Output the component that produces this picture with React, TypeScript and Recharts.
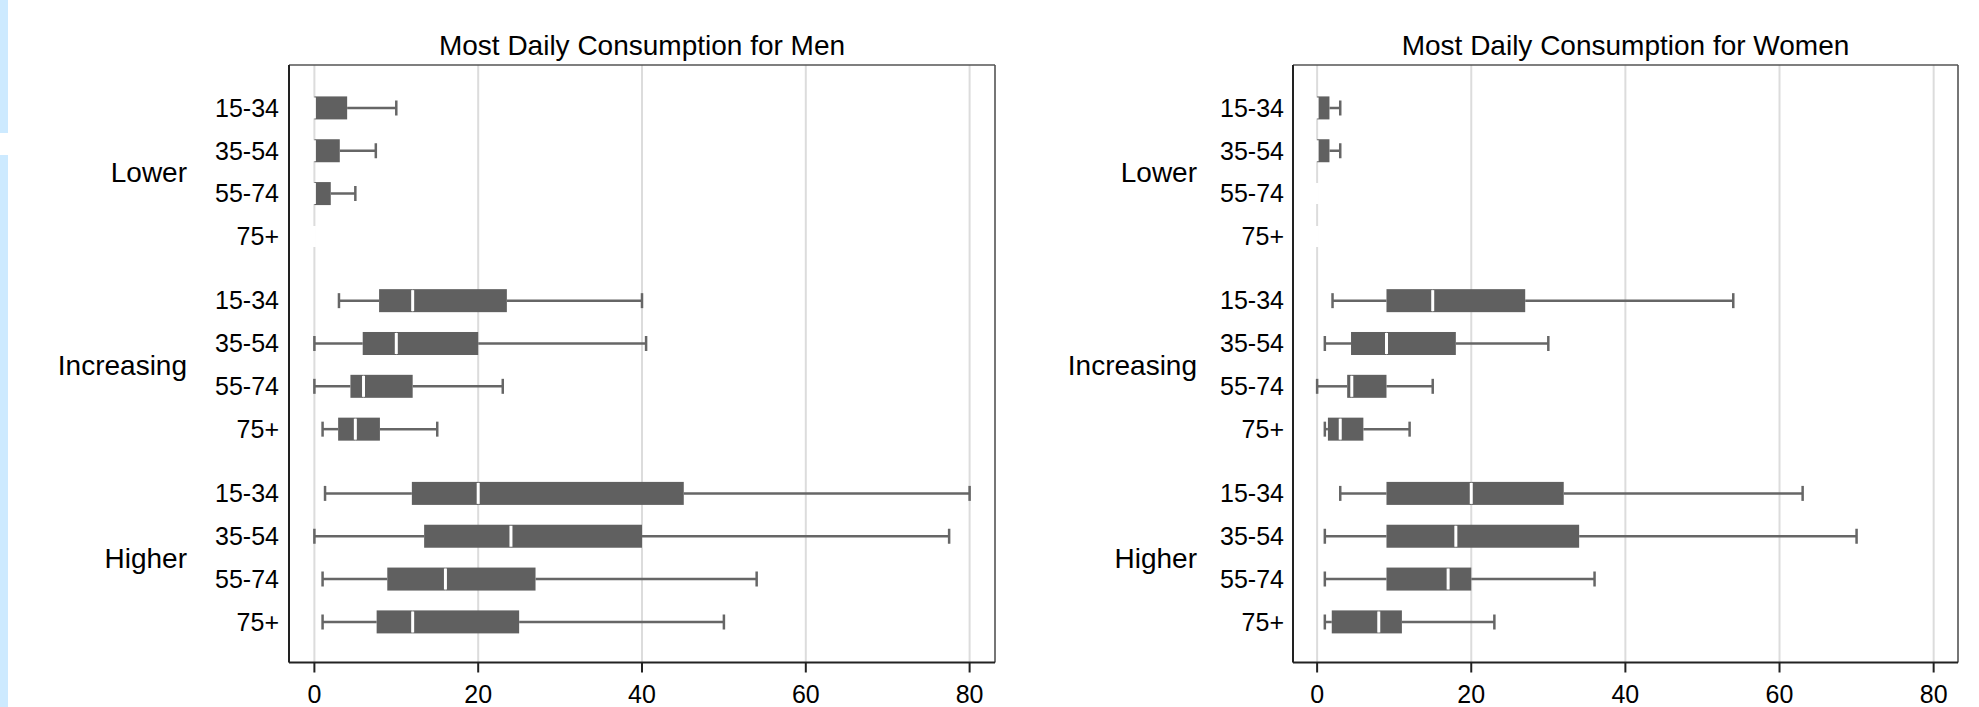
import React from "react";
import { ComposedChart, Bar, XAxis, YAxis, CartesianGrid, ReferenceLine } from "recharts";

const ageGroups = ["15-34", "35-54", "55-74", "75+"];
const trendGroups = ["Lower", "Increasing", "Higher"];
// row positions on the y axis (half-row gap between trend groups)
const rowPos = [0, 1, 2, 3, 4.5, 5.5, 6.5, 7.5, 9, 10, 11, 12];
const groupPos = [1.5, 6, 10.5];
const xTicks = [0, 20, 40, 60, 80];

const menMin = [0, 0, 0, 0, 3, 0, 0, 1, 1.3, 0, 1, 1];
const menQ1 = [0, 0, 0, 0, 7.9, 5.9, 4.4, 2.9, 11.9, 13.4, 8.9, 7.6];
const menMed = [0, 0, 0, 0, 12, 10, 6, 5, 20, 24, 16, 12];
const menQ3 = [4, 3.1, 2, 0, 23.5, 20, 12, 8, 45.1, 40, 27, 25];
const menMax = [10, 7.5, 5, 0, 40, 40.5, 23, 15, 80, 77.5, 54, 50];

const womenMin = [0, 0, 0, 0, 2, 1, 0, 1, 3, 1, 1, 1];
const womenQ1 = [0, 0, 0, 0, 9, 4.4, 3.9, 1.4, 9, 9, 9, 1.9];
const womenMed = [0, 0, 0, 0, 15, 9, 4.5, 3, 20, 18, 17, 8];
const womenQ3 = [1.6, 1.6, 0, 0, 27, 18, 9, 6, 32, 34, 20, 11];
const womenMax = [3, 3, 0, 0, 54, 30, 15, 12, 63, 70, 36, 23];

const FONT = "'Liberation Sans', Arial, Helvetica, sans-serif";
const BOX = "#606060";
const WHISKER = "#666666";

function buildRows(min: number[], q1: number[], med: number[], q3: number[], max: number[]) {
  return rowPos.map((pos, i) => ({
    pos,
    base: min[i],
    lowW: q1[i] - min[i],
    boxL: med[i] - q1[i],
    boxR: q3[i] - med[i],
    highW: max[i] - q3[i],
  }));
}

const menRows = buildRows(menMin, menQ1, menMed, menQ3, menMax);
const womenRows = buildRows(womenMin, womenQ1, womenMed, womenQ3, womenMax);

function YTick(props: any) {
  const { x, y, payload, groupDx } = props;
  const v = payload.value;
  const gi = groupPos.indexOf(v);
  if (gi >= 0) {
    return (
      <text x={x - groupDx} y={y} dy="0.355em" textAnchor="end" fontSize={28} fontFamily={FONT} fill="#000">
        {trendGroups[gi]}
      </text>
    );
  }
  const ri = rowPos.indexOf(v);
  return (
    <text x={x} y={y} dy="0.355em" textAnchor="end" fontSize={25} fontFamily={FONT} fill="#000">
      {ageGroups[ri % 4]}
    </text>
  );
}

const emptyShape = () => <g />;

const lowWhisker = (p: any) => {
  const { x, y, width, height } = p;
  if (!(width > 0)) return <g />;
  const cy = y + height / 2;
  return (
    <g>
      <line x1={x} x2={x + width} y1={cy} y2={cy} stroke={WHISKER} strokeWidth={2.5} />
      <line x1={x} x2={x} y1={cy - 7.5} y2={cy + 7.5} stroke={WHISKER} strokeWidth={2.5} />
    </g>
  );
};

const highWhisker = (p: any) => {
  const { x, y, width, height } = p;
  if (!(width > 0)) return <g />;
  const cy = y + height / 2;
  return (
    <g>
      <line x1={x} x2={x + width} y1={cy} y2={cy} stroke={WHISKER} strokeWidth={2.5} />
      <line x1={x + width} x2={x + width} y1={cy - 7.5} y2={cy + 7.5} stroke={WHISKER} strokeWidth={2.5} />
    </g>
  );
};

const boxLeft = (p: any) => {
  const { x, y, width, height } = p;
  return <rect x={x} y={y} width={Math.max(width, 0)} height={height} fill={BOX} />;
};

const boxRight = (p: any) => {
  const { x, y, width, height } = p;
  return (
    <g>
      <rect x={x} y={y} width={Math.max(width, 0)} height={height} fill={BOX} />
      <line x1={x} x2={x} y1={y + 1} y2={y + height - 1} stroke="#ffffff" strokeWidth={3} />
    </g>
  );
};

function Panel(props: any) {
  const { title, data, left, width, yWidth, marginRight, domain, tickGap, groupDx } = props;
  return (
    <div style={{ position: "absolute", left, top: 0, width, height: 707 }}>
      <div
        style={{
          position: "absolute",
          left: yWidth,
          width: width - yWidth - marginRight,
          top: 30,
          textAlign: "center",
          fontSize: 28,
          lineHeight: "32px",
          fontFamily: FONT,
          color: "#000",
        }}
      >
        {title}
      </div>
      <ComposedChart
        width={width}
        height={707}
        data={data}
        layout="vertical"
        margin={{ top: 65, right: marginRight, bottom: 0, left: 0 }}
      >
        <CartesianGrid horizontal={false} stroke="#dcdcdc" strokeWidth={2} />
        <XAxis
          type="number"
          domain={domain}
          ticks={xTicks}
          allowDataOverflow
          interval={0}
          height={44.5}
          tickSize={10}
          tickMargin={13}
          axisLine={{ stroke: "#222", strokeWidth: 2 }}
          tickLine={{ stroke: "#222", strokeWidth: 2 }}
          tick={{ fill: "#000", fontSize: 25, fontFamily: FONT }}
        />
        <YAxis
          type="number"
          dataKey="pos"
          domain={[-1, 12.95]}
          allowDataOverflow
          ticks={[...rowPos, ...groupPos]}
          interval={0}
          width={yWidth}
          tickLine={false}
          tickSize={0}
          tickMargin={tickGap}
          axisLine={{ stroke: "#222", strokeWidth: 2 }}
          tick={<YTick groupDx={groupDx} />}
        />
        <ReferenceLine y={-1} stroke="#555" strokeWidth={1.5} />
        <ReferenceLine x={domain[1]} stroke="#555" strokeWidth={1.5} />
        <Bar dataKey="base" stackId="s" barSize={23} shape={emptyShape} isAnimationActive={false} />
        <Bar dataKey="lowW" stackId="s" barSize={23} shape={lowWhisker} isAnimationActive={false} />
        <Bar dataKey="boxL" stackId="s" barSize={23} shape={boxLeft} isAnimationActive={false} />
        <Bar dataKey="boxR" stackId="s" barSize={23} shape={boxRight} isAnimationActive={false} />
        <Bar dataKey="highW" stackId="s" barSize={23} shape={highWhisker} isAnimationActive={false} />
      </ComposedChart>
    </div>
  );
}

export default function App() {
  return (
    <div style={{ position: "relative", width: 1979, height: 707, background: "#fff", overflow: "hidden" }}>
      <style>{`body{margin:0;background:#fff;}`}</style>
      <div style={{ position: "absolute", left: 0, top: 0, width: 8, height: 133, background: "#cdeaff" }} />
      <div style={{ position: "absolute", left: 0, top: 155, width: 8, height: 552, background: "#cdeaff" }} />
      <Panel
        title="Most Daily Consumption for Men"
        data={menRows}
        left={0}
        width={1000}
        yWidth={289}
        marginRight={5}
        domain={[-3.1, 83.1]}
        tickGap={10}
        groupDx={92}
      />
      <Panel
        title="Most Daily Consumption for Women"
        data={womenRows}
        left={1000}
        width={979}
        yWidth={293}
        marginRight={21}
        domain={[-3.13, 83.16]}
        tickGap={9}
        groupDx={87}
      />
    </div>
  );
}
